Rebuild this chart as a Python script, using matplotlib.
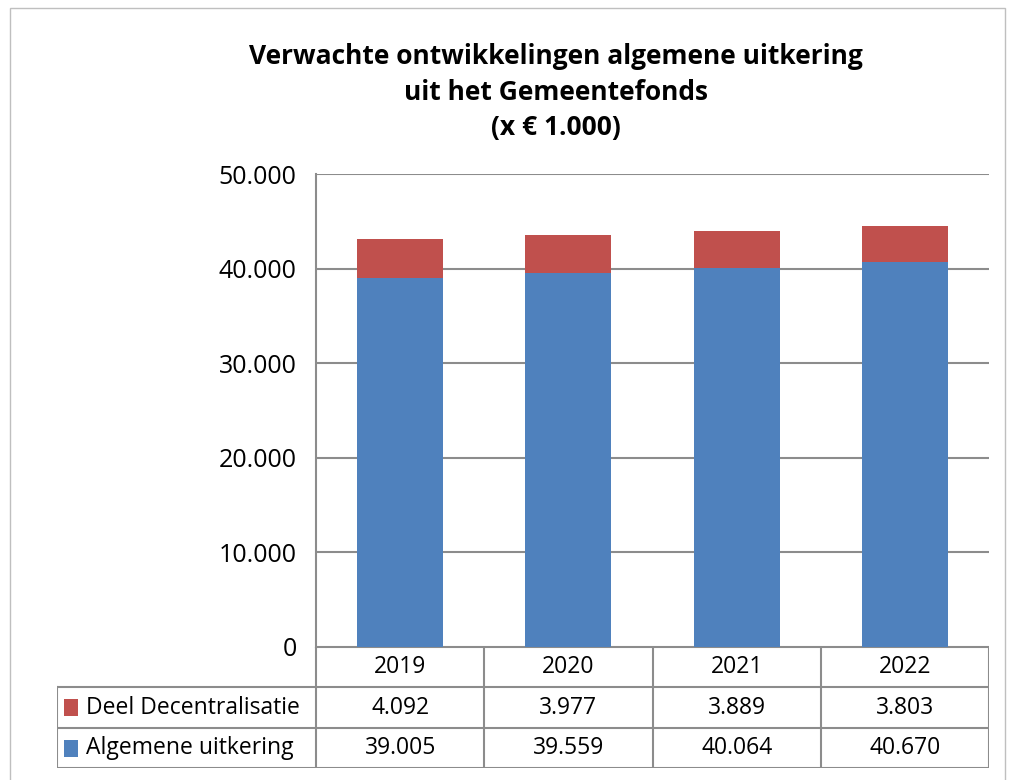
"""Stacked bars of the algemene uitkering with an Excel-style data table below."""

import matplotlib
matplotlib.use("Agg")
import matplotlib.pyplot as plt
from matplotlib.patches import Rectangle
from matplotlib.ticker import FuncFormatter, MultipleLocator
from matplotlib import font_manager

years = ["2019", "2020", "2021", "2022"]
algemene = [39005, 39559, 40064, 40670]
decentralisatie = [4092, 3977, 3889, 3803]
series_names = ["Deel Decentralisatie", "Algemene uitkering"]

BLUE = "#4F81BD"
RED = "#C0504D"
GRID = "#8C8C8C"

W, H = 1010, 780


def _font():
    names = {f.name for f in font_manager.fontManager.ttflist}
    for name in ["Liberation Sans Narrow", "Open Sans", "DejaVu Sans"]:
        if name in names:
            return name
    return "DejaVu Sans"


def nl(v, _pos=None):
    return f"{int(round(v)):,}".replace(",", ".")


def fx(px):
    return px / W


def fy(py):
    return 1 - py / H


def main() -> None:
    plt.rcParams["font.family"] = [_font(), "DejaVu Sans"]
    fig = plt.figure(figsize=(W / 100, H / 100), dpi=100)

    # outer chart border
    fig.add_artist(Rectangle((fx(10), fy(790)), fx(995), 782 / H,
                             transform=fig.transFigure, fill=False,
                             edgecolor="#BFBFBF", linewidth=1.0))

    left, right, top, bottom = 316, 989, 174, 647
    ax = fig.add_axes([fx(left), fy(bottom), fx(right - left), (bottom - top) / H])
    x = range(len(years))
    ax.bar(x, algemene, width=0.51, color=BLUE, zorder=3)
    ax.bar(x, decentralisatie, bottom=algemene, width=0.51, color=RED, zorder=3)
    ax.set_xlim(-0.5, len(years) - 0.5)
    ax.set_ylim(0, 50000)
    ax.yaxis.set_major_locator(MultipleLocator(10000))
    ax.yaxis.set_major_formatter(FuncFormatter(nl))
    ax.grid(axis="y", color=GRID, linewidth=1.5, zorder=0)
    ax.set_xticks([])
    ax.tick_params(axis="y", length=0, pad=14, labelsize=18)
    for side in ["top", "right", "bottom"]:
        ax.spines[side].set_visible(False)
    ax.spines["left"].set_color(GRID)
    ax.spines["left"].set_linewidth(1.5)

    # data table
    tleft, tbottom = 57, 768
    col_w = (right - left) / len(years)
    tax = fig.add_axes([fx(tleft), fy(tbottom), fx(right - tleft), (tbottom - bottom) / H])
    tax.set_xlim(-0.5 - (left - tleft) / col_w, len(years) - 0.5)
    tax.set_ylim(3, 0)
    tax.axis("off")
    xmin = tax.get_xlim()[0]
    lc = dict(color=GRID, linewidth=1.5)
    # horizontal lines
    tax.plot([-0.5, len(years) - 0.5], [0, 0], **lc)
    for r in [1, 2, 3]:
        tax.plot([xmin, len(years) - 0.5], [r, r], **lc)
    # vertical lines
    tax.plot([xmin, xmin], [1, 3], **lc)
    for c in range(len(years) + 1):
        tax.plot([c - 0.5, c - 0.5], [0, 3], **lc)
    for i, yr in enumerate(years):
        tax.text(i, 0.5, yr, ha="center", va="center", fontsize=16.5)
    rows = [(decentralisatie, RED), (algemene, BLUE)]
    for r, (vals, color) in enumerate(rows, start=1):
        for i, v in enumerate(vals):
            tax.text(i, r + 0.5, nl(v), ha="center", va="center", fontsize=16.5)
        tax.add_patch(Rectangle((xmin + 0.04, r + 0.3), 0.085, 0.42,
                                color=color, linewidth=0))
        tax.text(xmin + 0.175, r + 0.5, series_names[r - 1], ha="left",
                 va="center", fontsize=16.5)

    fig.text(fx(556), fy(92), "Verwachte ontwikkelingen algemene uitkering\n"
             "uit het Gemeentefonds\n(x € 1.000)", ha="center", va="center",
             fontsize=19, fontweight="bold", linespacing=1.4)

    fig.savefig("out.png", dpi=100)


if __name__ == "__main__":
    main()
